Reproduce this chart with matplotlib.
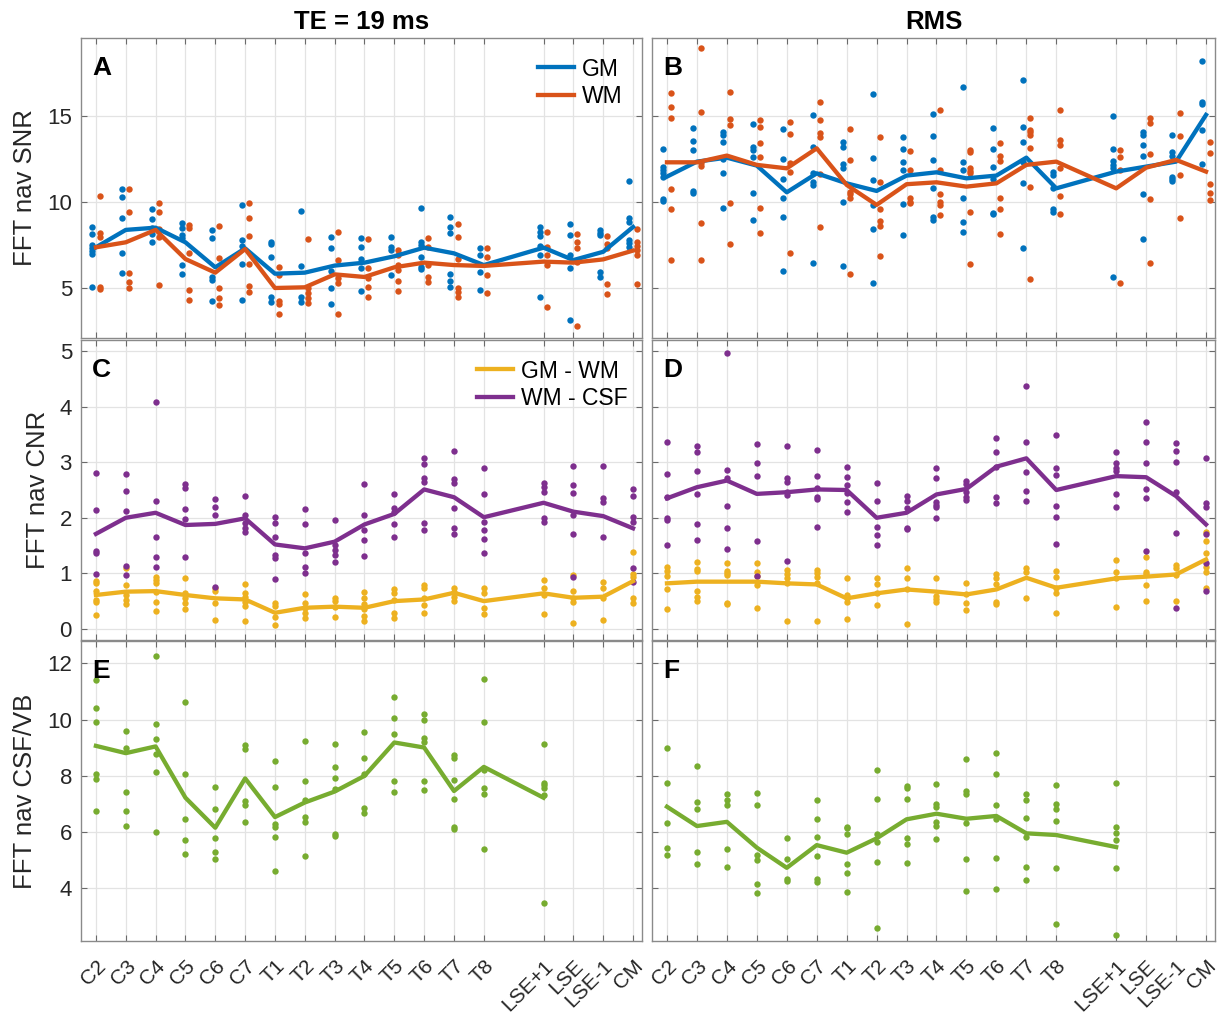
import numpy as np
import matplotlib.pyplot as plt

plt.rcParams['font.family'] = ['Liberation Sans', 'DejaVu Sans']

levels = ['C2', 'C3', 'C4', 'C5', 'C6', 'C7', 'T1', 'T2', 'T3', 'T4', 'T5', 'T6',
          'T7', 'T8', 'LSE+1', 'LSE', 'LSE-1', 'CM']

# ---- A: TE = 19 ms, SNR
snr_te_gm = [7.36, 8.37, 8.5, 7.65, 6.2, 7.3, 5.83, 5.89, 6.3, 6.47, 6.84, 7.34, 7.01, 6.33,
             7.34, 6.62, 7.1, 8.54]
snr_te_wm = [7.36, 7.65, 8.37, 6.68, 5.89, 7.26, 5.0, 5.04, 5.79, 5.64, 6.2, 6.47, 6.33, 6.28,
             6.53, 6.47, 6.66, 7.17]
snr_te_gm_pts = [
    [8.56, 8.13, 7.48, 7.3, 7.15, 6.97, 5.08], [10.74, 10.26, 9.08, 7.01, 5.89],
    [9.6, 8.98, 8.46, 8.11, 7.69], [8.75, 8.46, 8.07, 7.88, 6.33, 5.79],
    [8.35, 7.88, 5.62, 5.46, 4.27], [9.82, 7.77, 7.46, 6.4, 4.28],
    [7.69, 7.53, 6.82, 4.5, 4.2], [9.47, 6.26, 4.5, 4.2],
    [7.94, 7.3, 5.99, 4.98, 4.05], [7.9, 7.4, 6.66, 6.14, 4.83],
    [7.96, 7.36, 7.2, 5.75], [9.64, 7.69, 7.49, 6.82, 6.2, 6.08],
    [9.14, 8.54, 8.17, 5.79, 5.4, 5.08], [7.3, 6.91, 5.91, 4.86],
    [8.56, 8.27, 8.02, 7.44, 6.91, 4.5], [8.73, 8.07, 6.91, 6.14, 3.12],
    [8.37, 8.17, 8.07, 5.95, 5.66], [11.23, 9.04, 8.85, 7.79, 7.59, 7.4]]
snr_te_wm_pts = [
    [10.36, 8.17, 7.96, 5.08, 4.94], [10.74, 9.39, 5.89, 5.37, 5.02],
    [9.91, 9.43, 8.4, 7.98, 5.17], [8.66, 8.46, 7.01, 4.88, 4.3],
    [8.62, 6.72, 4.98, 4.4, 4.01], [9.95, 9.04, 8.02, 6.37, 5.13, 4.75],
    [6.24, 5.75, 4.24, 4.05, 3.47], [7.84, 4.98, 4.69, 4.4, 4.11],
    [8.27, 6.62, 5.56, 5.27, 3.51], [7.84, 6.14, 5.56, 5.08, 4.5],
    [7.2, 6.91, 6.33, 6.04, 5.4, 4.85], [7.88, 7.4, 6.33, 5.66, 5.37],
    [8.71, 7.96, 6.68, 4.98, 4.79, 4.5], [7.3, 6.82, 5.75, 4.69],
    [8.27, 7.4, 6.91, 6.33, 3.92], [8.13, 7.65, 7.3, 6.53, 2.81],
    [8.04, 7.55, 7.3, 5.21, 4.63], [8.4, 7.69, 7.46, 7.2, 6.91, 5.23]]

# ---- B: RMS, SNR
snr_rms_gm = [11.46, 12.33, 12.56, 12.1, 10.55, 11.65, 11.07, 10.63, 11.52, 11.71, 11.36, 11.52,
              12.56, 10.78, 11.75, 12.04, 12.33, 15.04]
snr_rms_wm = [12.29, 12.29, 12.68, 12.14, 11.94, 13.1, 10.98, 9.82, 11.02, 11.13, 10.88, 11.07,
              12.14, 12.33, 10.78, 11.98, 12.43, 11.75]
snr_rms_gm_pts = [
    [13.07, 12.04, 11.85, 11.65, 11.46, 10.16, 10.04], [14.3, 13.55, 13.0, 10.63, 10.49],
    [14.03, 13.88, 13.49, 12.49, 11.65, 9.66], [14.5, 13.2, 13.0, 12.62, 10.53, 8.95],
    [14.23, 12.49, 11.31, 10.2, 9.1, 5.99], [15.04, 13.16, 11.65, 11.13, 10.98, 6.43],
    [13.45, 13.2, 12.18, 11.98, 10.0, 6.3], [16.24, 12.52, 11.25, 9.82, 8.42, 5.27],
    [13.78, 13.07, 12.33, 11.85, 9.86, 8.08], [15.12, 13.84, 12.43, 10.78, 9.14, 8.95],
    [16.64, 12.33, 11.85, 10.24, 8.85, 8.23], [14.26, 13.07, 12.04, 11.32, 9.37, 9.29],
    [17.07, 14.36, 13.49, 12.33, 11.07, 7.3], [11.75, 11.56, 10.78, 9.58, 9.43],
    [15.0, 13.07, 12.37, 12.14, 11.94, 5.66], [14.03, 13.88, 13.3, 12.68, 10.47, 7.84],
    [13.88, 12.91, 12.68, 11.46, 11.32, 11.21], [18.17, 15.77, 15.66, 14.17, 12.18]]
snr_rms_wm_pts = [
    [16.33, 15.52, 14.85, 10.74, 9.58, 6.64], [18.9, 15.23, 12.23, 12.1, 8.77, 6.64],
    [16.35, 14.79, 14.46, 9.91, 7.55], [14.75, 14.36, 13.39, 12.62, 9.66, 8.17],
    [14.65, 13.92, 12.23, 11.75, 7.01], [15.81, 14.75, 13.97, 13.78, 11.6, 8.52],
    [14.23, 12.43, 10.59, 10.44, 10.24, 5.83], [13.78, 11.17, 9.58, 8.89, 8.62, 6.88],
    [12.95, 11.85, 10.2, 10.0, 9.91], [15.33, 11.85, 10.44, 10.0, 9.82, 9.24],
    [13.01, 12.87, 11.94, 11.79, 11.65, 9.43, 6.37], [13.39, 12.68, 12.37, 10.2, 9.58, 8.11],
    [14.85, 14.17, 14.03, 13.88, 13.1, 10.86, 5.5], [15.33, 13.59, 13.3, 11.98, 10.34, 9.29],
    [13.0, 12.62, 11.85, 5.27], [14.85, 14.55, 12.76, 10.14, 6.43],
    [15.17, 13.84, 11.56, 9.04], [13.49, 12.81, 11.02, 10.49, 10.1]]

# ---- C: TE = 19 ms, CNR
cnr_te_gmwm = [0.61, 0.67, 0.68, 0.61, 0.55, 0.53, 0.29, 0.38, 0.40, 0.38, 0.50, 0.53, 0.65, 0.50,
               0.64, 0.56, 0.58, 0.86]
cnr_te_wmcsf = [1.71, 2.0, 2.09, 1.87, 1.89, 1.99, 1.52, 1.45, 1.57, 1.88, 2.07, 2.51, 2.37, 2.01,
                2.27, 2.11, 2.03, 1.81]
cnr_te_gmwm_pts = [
    [0.86, 0.83, 0.68, 0.52, 0.49, 0.25], [1.09, 0.79, 0.61, 0.52, 0.44],
    [0.94, 0.88, 0.82, 0.67, 0.49, 0.32], [0.92, 0.64, 0.55, 0.47, 0.35],
    [0.73, 0.68, 0.47, 0.16], [0.8, 0.65, 0.58, 0.49, 0.41, 0.14],
    [0.46, 0.41, 0.22, 0.07], [0.62, 0.47, 0.38, 0.28, 0.2],
    [0.55, 0.5, 0.4, 0.22], [0.67, 0.55, 0.44, 0.35, 0.23, 0.14],
    [0.71, 0.64, 0.52, 0.28, 0.2], [0.79, 0.73, 0.55, 0.43, 0.29],
    [0.74, 0.67, 0.58, 0.5], [0.74, 0.64, 0.38, 0.26],
    [0.88, 0.74, 0.61, 0.26], [0.97, 0.68, 0.55, 0.49, 0.11],
    [0.85, 0.73, 0.55, 0.16], [1.38, 0.98, 0.94, 0.55, 0.47]]
cnr_te_wmcsf_pts = [
    [2.81, 2.14, 1.4, 1.36, 0.98], [2.79, 2.48, 2.13, 1.14, 0.97],
    [4.09, 2.31, 1.65, 1.3, 1.11], [2.61, 2.54, 2.16, 1.97, 1.3],
    [2.33, 2.2, 2.05, 0.76], [2.4, 2.05, 1.9, 1.81, 1.74],
    [2.02, 1.91, 1.65, 1.33, 1.27, 0.89], [2.16, 1.89, 1.37, 1.11, 1.01],
    [1.96, 1.51, 1.42, 1.33, 1.21], [2.61, 2.05, 1.78, 1.6, 1.31],
    [2.43, 2.17, 2.11, 1.89, 1.65], [3.07, 2.97, 2.72, 2.65, 1.9, 1.78],
    [3.2, 2.7, 2.62, 2.17, 1.81, 1.71], [2.9, 2.42, 1.92, 1.78, 1.62, 1.36],
    [2.62, 2.56, 2.46, 2.0, 1.93], [2.94, 2.59, 2.44, 2.05, 1.71, 0.94],
    [2.93, 2.35, 2.29, 1.65], [2.52, 2.4, 2.02, 1.92, 1.1, 0.85]]

# ---- D: RMS, CNR
cnr_rms_gmwm = [0.82, 0.85, 0.85, 0.85, 0.82, 0.8, 0.55, 0.64, 0.71, 0.67, 0.62, 0.71, 0.92, 0.74,
                0.91, 0.94, 0.98, 1.25]
cnr_rms_wmcsf = [2.35, 2.55, 2.67, 2.43, 2.46, 2.51, 2.5, 2.0, 2.09, 2.42, 2.52, 2.92, 3.07, 2.5,
                 2.75, 2.73, 2.39, 1.88]
cnr_rms_gmwm_pts = [
    [1.12, 1.04, 0.95, 0.71, 0.35], [1.21, 1.07, 1.04, 0.68, 0.58, 0.5],
    [1.19, 1.04, 1.0, 0.97, 0.47, 0.44], [1.18, 1.03, 0.95, 0.79, 0.38],
    [1.06, 0.98, 0.91, 0.82, 0.14], [1.06, 1.0, 0.94, 0.83, 0.14],
    [0.91, 0.61, 0.55, 0.49, 0.17], [0.91, 0.8, 0.65, 0.43],
    [1.09, 0.92, 0.71, 0.08], [0.91, 0.59, 0.53, 0.49],
    [0.83, 0.62, 0.46, 0.34], [0.98, 0.91, 0.8, 0.49, 0.44],
    [1.09, 1.03, 0.56], [1.04, 0.94, 0.73, 0.65, 0.28],
    [1.24, 1.02, 0.92, 0.4], [1.3, 1.03, 0.98, 0.79, 0.5],
    [1.15, 1.09, 0.97, 0.5], [1.75, 1.58, 1.37, 1.12, 1.03, 0.74]]
cnr_rms_wmcsf_pts = [
    [3.37, 2.78, 2.38, 1.99, 1.96, 1.51], [3.3, 3.18, 2.84, 2.42, 1.88, 1.6],
    [4.96, 2.86, 2.71, 2.21, 1.81, 1.44], [3.33, 2.98, 2.75, 1.58, 0.95],
    [3.29, 2.72, 2.65, 2.47, 2.41, 1.22], [3.22, 2.76, 2.53, 2.37, 2.33, 1.84],
    [2.91, 2.74, 2.59, 2.45, 2.29, 2.11], [2.63, 2.3, 1.83, 1.69, 1.51],
    [2.4, 2.31, 2.17, 1.82, 1.79], [2.9, 2.72, 2.29, 2.23, 2.2, 2.0],
    [2.66, 2.61, 2.47, 2.38, 2.32], [3.43, 3.18, 2.92, 2.38, 2.27],
    [4.38, 3.36, 2.82, 2.49, 2.3], [3.49, 2.9, 2.77, 2.22, 2.02, 1.52],
    [3.19, 2.98, 2.89, 2.84, 2.43, 2.19], [3.72, 3.37, 2.99, 2.52, 2.35, 1.4],
    [3.34, 3.2, 3.01, 2.47, 1.72, 0.38], [3.08, 2.27, 2.2, 1.71, 1.19, 0.68]]

# ---- E / F: CSF/VB (no values for LSE, LSE-1, CM)
csf_te = [9.06, 8.8, 9.04, 7.21, 6.14, 7.9, 6.52, 7.04, 7.43, 7.99, 9.18, 9.0, 7.45, 8.31, 7.21]
csf_te_pts = [
    [11.42, 10.4, 9.92, 8.05, 7.87, 6.74], [9.6, 8.98, 7.42, 6.74, 6.2],
    [12.25, 9.83, 9.32, 8.76, 8.14, 6.0], [10.61, 8.04, 6.44, 5.69, 5.19],
    [7.61, 6.82, 5.79, 5.27, 5.04], [9.1, 8.94, 7.1, 6.95, 6.35],
    [8.52, 7.6, 6.29, 6.17, 5.82, 4.6], [9.24, 7.79, 7.13, 6.52, 6.35, 5.13],
    [9.12, 8.29, 7.93, 7.51, 5.93, 5.85], [9.57, 8.62, 8.07, 6.83, 6.68],
    [10.81, 10.05, 9.48, 7.81, 7.43], [10.19, 9.99, 9.33, 9.21, 7.81, 7.49],
    [8.73, 8.64, 7.83, 7.18, 6.17, 6.11], [11.44, 9.92, 8.19, 7.57, 7.33, 5.39],
    [9.14, 7.75, 7.67, 7.57, 7.31, 3.46]]
csf_rms = [6.89, 6.2, 6.35, 5.43, 4.71, 5.52, 5.25, 5.76, 6.44, 6.64, 6.46, 6.56, 5.94, 5.88, 5.45]
csf_rms_pts = [
    [9.0, 7.75, 6.32, 5.43, 5.17], [8.35, 7.06, 6.8, 5.27, 4.83],
    [7.33, 7.12, 6.95, 5.37, 4.75], [7.37, 6.94, 5.15, 4.98, 4.14, 3.82],
    [5.76, 5.01, 4.3, 4.24], [7.13, 6.46, 5.81, 5.13, 4.32, 4.21],
    [6.17, 6.14, 5.9, 4.83, 4.51, 3.85], [8.2, 7.18, 5.93, 5.64, 4.92, 2.55],
    [7.63, 7.55, 7.18, 5.79, 5.55, 4.89], [7.71, 6.98, 6.88, 6.36, 6.2, 5.75],
    [8.58, 7.45, 7.36, 6.32, 5.01, 3.88], [8.8, 8.05, 6.94, 6.44, 5.07, 3.96],
    [7.33, 7.12, 6.48, 5.82, 4.74, 4.26], [7.67, 7.0, 6.8, 6.38, 4.71, 2.69],
    [7.74, 6.17, 5.96, 5.7, 4.71, 2.31]]

BLUE, ORANGE = '#0072BD', '#D95319'
YELLOW, PURPLE = '#EDB120', '#7E2F8E'
GREEN = '#77AC30'

# gap between T8 and LSE+1
xpos = np.array([i if i < 14 else i + 1 for i in range(len(levels))])

fig = plt.figure(figsize=(12.19, 10.19), dpi=100)
W = 1219.0
H = 1019.0
col_left = [81 / W, 652 / W]
col_w = [561 / W, 563 / W]
row_bot = [(H - 338) / H, (H - 640) / H, (H - 941) / H]
row_h = 300 / H

axes = [[fig.add_axes([col_left[c], row_bot[r], col_w[c], row_h]) for c in range(2)]
        for r in range(3)]


def draw(ax, mean, pts, color, dx=0.0, label=None):
    n = len(mean)
    for i in range(n):
        ax.plot(np.full(len(pts[i]), xpos[i] + dx), pts[i], 'o', color=color,
                markersize=4.6, markeredgewidth=0, zorder=2)
    ax.plot(xpos[:n], mean, '-', color=color, lw=3.1, zorder=3, label=label)


draw(axes[0][0], snr_te_gm, snr_te_gm_pts, BLUE, -0.12, 'GM')
draw(axes[0][0], snr_te_wm, snr_te_wm_pts, ORANGE, 0.12, 'WM')
draw(axes[0][1], snr_rms_gm, snr_rms_gm_pts, BLUE, -0.12)
draw(axes[0][1], snr_rms_wm, snr_rms_wm_pts, ORANGE, 0.12)
draw(axes[1][0], cnr_te_gmwm, cnr_te_gmwm_pts, YELLOW, 0, 'GM - WM')
draw(axes[1][0], cnr_te_wmcsf, cnr_te_wmcsf_pts, PURPLE, 0, 'WM - CSF')
draw(axes[1][1], cnr_rms_gmwm, cnr_rms_gmwm_pts, YELLOW)
draw(axes[1][1], cnr_rms_wmcsf, cnr_rms_wmcsf_pts, PURPLE)
draw(axes[2][0], csf_te, csf_te_pts, GREEN)
draw(axes[2][1], csf_rms, csf_rms_pts, GREEN)

ylims = [(2.1, 19.5), (-0.2, 5.2), (2.1, 12.8)]
yticks = [[5, 10, 15], [0, 1, 2, 3, 4, 5], [4, 6, 8, 10, 12]]
ylabels = ['FFT nav SNR', 'FFT nav CNR', 'FFT nav CSF/VB']
letters = [['A', 'B'], ['C', 'D'], ['E', 'F']]

for r in range(3):
    for c in range(2):
        ax = axes[r][c]
        ax.set_xlim(-0.5, 18.3)
        ax.set_ylim(*ylims[r])
        ax.set_xticks(xpos)
        ax.set_yticks(yticks[r])
        ax.grid(True, color='#e3e3e3', lw=0.9)
        ax.set_axisbelow(True)
        for s in ax.spines.values():
            s.set_color('#8a8a8a')
            s.set_linewidth(1.0)
        ax.tick_params(direction='in', length=4, width=0.8, color='#6a6a6a', top=True,
                       right=True, labelsize=16, labelcolor='#262626')
        ax.tick_params(axis='y', pad=6.5)
        ax.tick_params(axis='x', pad=11, labelsize=15)
        if r < 2:
            ax.set_xticklabels([])
        else:
            ax.set_xticklabels(levels, rotation=45, ha='right', va='top',
                               rotation_mode='anchor')
        if c == 1:
            ax.set_yticklabels([])
        else:
            ax.set_ylabel(ylabels[r], fontsize=18.5, color='#262626', labelpad=7)
        ax.text(0.02, 0.94, letters[r][c], transform=ax.transAxes, fontsize=19,
                fontweight='bold', va='top', ha='left')

for ax, xa in ((axes[0][0], 0.966), (axes[1][0], 0.975)):
    ax.legend(loc='upper right', bbox_to_anchor=(xa, 0.935), frameon=False, fontsize=16.5,
              handlelength=1.6, handletextpad=0.35, borderaxespad=0, borderpad=0,
              labelspacing=0.2)

fig.text(col_left[0] + col_w[0] / 2, (H - 22) / H, 'TE = 19 ms', ha='center', va='center',
         fontsize=18.5, fontweight='bold')
fig.text(col_left[1] + col_w[1] / 2, (H - 22) / H, 'RMS', ha='center', va='center',
         fontsize=18.5, fontweight='bold')

fig.savefig('out.png', dpi=100)
